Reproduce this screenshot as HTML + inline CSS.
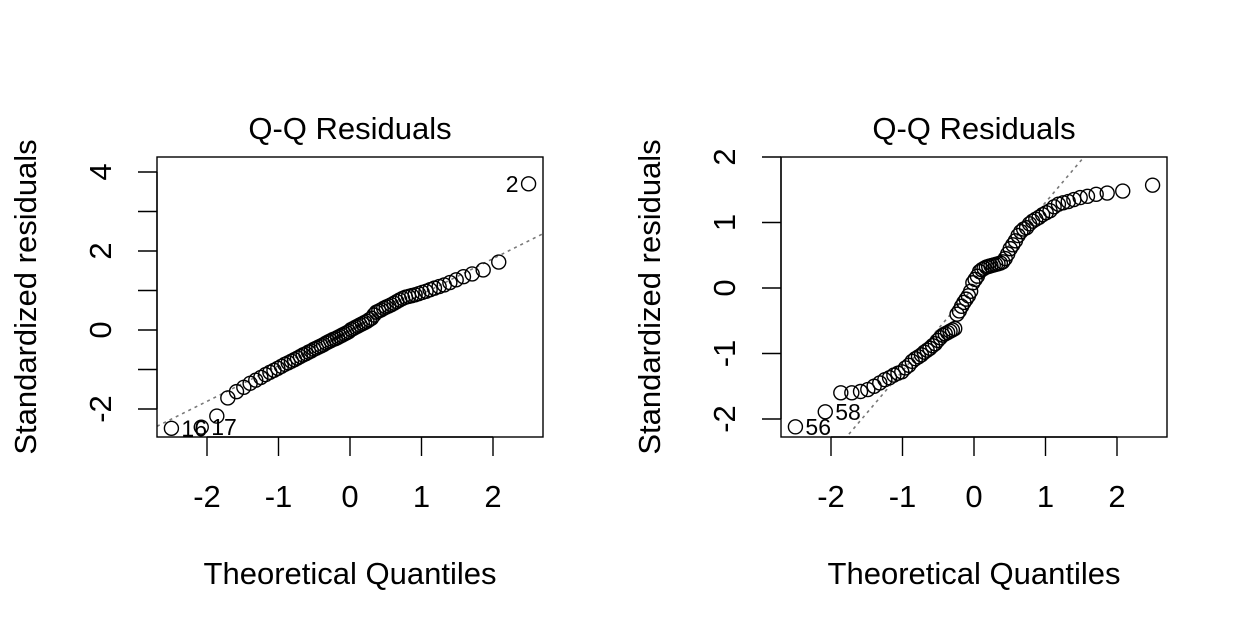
<!DOCTYPE html>
<html><head><meta charset="utf-8"><style>
html,body{margin:0;padding:0;background:#fff;}
svg{display:block;font-family:"Liberation Sans",Arial,sans-serif;}
</style></head><body>
<svg id="chart" width="1248" height="633" viewBox="0 0 1248 633" xmlns="http://www.w3.org/2000/svg"></svg>
<script>
// Data: standardized residuals for each model (sorted before plotting)
const leftResiduals = [-2.49,-2.46,-2.18,
-1.72,-1.56,-1.45,-1.35,-1.27,-1.20,-1.13,-1.07,-1.02,-0.97,-0.92,-0.87,-0.83,-0.79,-0.75,-0.71,-0.67,-0.63,-0.60,-0.56,-0.53,-0.49,-0.46,-0.43,-0.40,-0.37,-0.33,-0.30,-0.27,-0.24,-0.22,-0.19,-0.16,-0.13,-0.10,-0.07,-0.04,
0.01,0.04,0.07,0.10,0.13,0.16,0.19,0.22,0.26,0.30,0.38,0.45,0.48,0.51,0.55,0.58,0.61,0.64,0.68,0.72,0.76,0.80,0.83,0.85,0.87,0.89,0.92,0.95,0.98,1.02,1.06,1.10,1.14,1.20,1.27,1.35,1.42,
1.52,1.72,3.70];
const rightResiduals = [-2.12,-1.89,-1.60,-1.60,-1.58,-1.55,-1.50,-1.45,-1.40,-1.37,-1.33,-1.30,-1.28,-1.22,-1.18,-1.12,-1.08,-1.05,-1.02,-0.98,-0.95,-0.92,-0.88,-0.85,-0.80,-0.76,-0.72,-0.70,-0.68,-0.66,-0.64,-0.62,-0.40,-0.35,-0.28,-0.22,-0.17,-0.12,-0.05,0.08,0.13,0.18,0.25,0.28,0.30,0.32,0.33,0.34,0.35,0.36,0.37,0.38,0.40,0.45,0.52,0.60,0.66,0.72,0.80,0.86,0.90,0.92,0.98,1.02,1.05,1.08,1.12,1.15,1.18,1.24,1.28,1.30,1.32,1.35,1.38,1.40,1.43,1.45,1.48,1.57];
const leftLabels = [[0,"16"],[1,"17"],[-1,"2"]];
const rightLabels = [[0,"56"],[1,"58"]];
const leftLine = [0.0, 0.903];   // intercept, slope
const rightLine = [0.02, 1.287];
const xTicks = [-2,-1,0,1,2];
const xTickLabels = ["-2","-1","0","1","2"];
const leftYTicks = [-2,-1,0,1,2,3,4];
const leftYLabels = ["-2","","0","","2","","4"];
const rightYTicks = [-2,-1,0,1,2];
const rightYLabels = ["-2","-1","0","1","2"];

function qnorm(p){
  const a=[-3.969683028665376e+01,2.209460984245205e+02,-2.759285104469687e+02,1.383577518672690e+02,-3.066479806614716e+01,2.506628277459239e+00];
  const b=[-5.447609879822406e+01,1.615858368580409e+02,-1.556989798598866e+02,6.680131188771972e+01,-1.328068155288572e+01];
  const c=[-7.784894002430293e-03,-3.223964580411365e-01,-2.400758277161838e+00,-2.549732539343734e+00,4.374664141464968e+00,2.938163982698783e+00];
  const d=[7.784695709041462e-03,3.224671290700398e-01,2.445134137142996e+00,3.754408661907416e+00];
  let q,r;
  if(p<0.02425){q=Math.sqrt(-2*Math.log(p));return (((((c[0]*q+c[1])*q+c[2])*q+c[3])*q+c[4])*q+c[5])/((((d[0]*q+d[1])*q+d[2])*q+d[3])*q+1);}
  if(p>1-0.02425){q=Math.sqrt(-2*Math.log(1-p));return -(((((c[0]*q+c[1])*q+c[2])*q+c[3])*q+c[4])*q+c[5])/((((d[0]*q+d[1])*q+d[2])*q+d[3])*q+1);}
  q=p-0.5;r=q*q;return (((((a[0]*r+a[1])*r+a[2])*r+a[3])*r+a[4])*r+a[5])*q/(((((b[0]*r+b[1])*r+b[2])*r+b[3])*r+b[4])*r+1);
}
function ppoints(n){const a=n<=10?3/8:0.5;const out=[];for(let i=1;i<=n;i++)out.push(qnorm((i-a)/(n+1-2*a)));return out;}

const NS="http://www.w3.org/2000/svg";
const svg=document.getElementById('chart');
function el(tag,attrs,parent){const e=document.createElementNS(NS,tag);for(const k in attrs)e.setAttribute(k,attrs[k]);(parent||svg).appendChild(e);return e;}

function panel(cfg){
  const g=el('g',{});
  
  
  const X0=cfg.box[0],X1=cfg.box[1],Y0=cfg.box[2],Y1=cfg.box[3];
  const sx=v=>cfg.xZero+v*cfg.xScale;
  const sy=v=>cfg.yZero-v*cfg.yScale;
  const data=cfg.data.slice().sort((a,b)=>a-b);
  const cid=cfg.name+'-clip';
  const cp=el('clipPath',{id:cid},g);el('rect',{x:X0,y:Y0,width:X1-X0,height:Y1-Y0},cp);
  const xa=(X0-cfg.xZero)/cfg.xScale, xb=(X1-cfg.xZero)/cfg.xScale;
  const ln=el('line',{x1:sx(xa),y1:sy(cfg.line[0]+cfg.line[1]*xa),x2:sx(xb),y2:sy(cfg.line[0]+cfg.line[1]*xb),stroke:'#777','stroke-width':1.6,'stroke-dasharray':'3,4','clip-path':'url(#'+cid+')'},g);
  
  
  const qs=ppoints(data.length);
  data.forEach((v,i)=>{
    const c=el('circle',{cx:sx(qs[i]),cy:sy(v),r:7,fill:'none',stroke:'#000','stroke-width':1.4},g);
    
    
  });
  cfg.labels.forEach(([idx,txt])=>{
    const i=idx<0?data.length+idx:idx;
    const px=sx(qs[i]),py=sy(data[i]);
    const right=idx>=0;
    const t=el('text',{x:right?px+10:px-10,y:py+8,'font-size':23,'text-anchor':right?'start':'end'},g);
    t.textContent=txt;
    
    
  });
  const bx=el('rect',{x:X0,y:Y0,width:X1-X0,height:Y1-Y0,fill:'none',stroke:'#000','stroke-width':1.4},g);
  
  
  el('line',{x1:sx(xTicks[0]),y1:Y1,x2:sx(xTicks[xTicks.length-1]),y2:Y1,stroke:'#000','stroke-width':1.4},g);
  xTicks.forEach((v,i)=>{
    el('line',{x1:sx(v),y1:Y1,x2:sx(v),y2:Y1+19,stroke:'#000','stroke-width':1.4},g);
    const t=el('text',{x:sx(v),y:Y1+70,'font-size':31,'text-anchor':'middle'},g);
    t.textContent=xTickLabels[i];
    
    
  });
  const yt=cfg.yTicks;
  yt.forEach((v,i)=>{
    el('line',{x1:X0,y1:sy(v),x2:X0-19,y2:sy(v),stroke:'#000','stroke-width':1.4},g);
    if(cfg.yLabels[i]){
      const t=el('text',{x:0,y:0,'font-size':31,'text-anchor':'middle',transform:`translate(${X0-46},${sy(v)}) rotate(-90)`},g);
      t.textContent=cfg.yLabels[i];
      
      
    }
  });
  el('line',{x1:X0,y1:sy(yt[0]),x2:X0,y2:sy(yt[yt.length-1]),stroke:'#000','stroke-width':1.4},g);
  const tt=el('text',{x:(X0+X1)/2,y:139,'font-size':31,'text-anchor':'middle'},g);
  tt.textContent='Q-Q Residuals';
  
  
  const xt=el('text',{x:(X0+X1)/2,y:584,'font-size':31,'text-anchor':'middle'},g);
  xt.textContent='Theoretical Quantiles';
  
  
  const ytt=el('text',{x:0,y:0,'font-size':31,'text-anchor':'middle',transform:`translate(${X0-121},${(Y0+Y1)/2}) rotate(-90)`},g);
  ytt.textContent='Standardized residuals';
  
  
}

panel({name:'left-qq-panel',box:[157,543,157,437],xZero:350,xScale:71.5,yZero:330,yScale:39.5,data:leftResiduals,labels:leftLabels,line:leftLine,yTicks:leftYTicks,yLabels:leftYLabels});
panel({name:'right-qq-panel',box:[781,1167,157,437],xZero:974,xScale:71.5,yZero:288,yScale:65.5,data:rightResiduals,labels:rightLabels,line:rightLine,yTicks:rightYTicks,yLabels:rightYLabels});
</script>
</body></html>
